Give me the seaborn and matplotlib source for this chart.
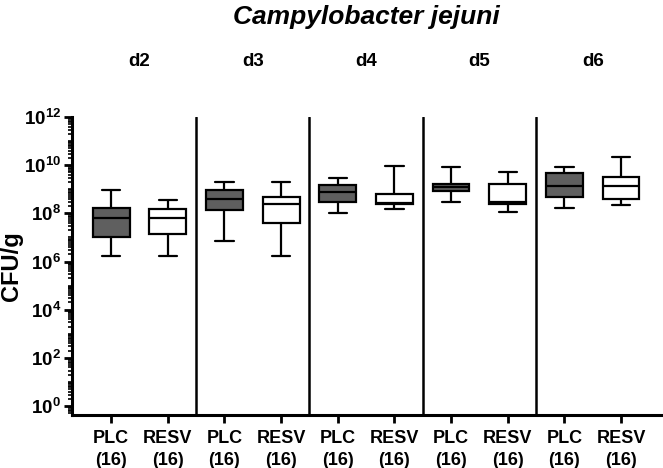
import numpy as np
import pandas as pd
import seaborn as sns
import matplotlib
matplotlib.use("Agg")
from matplotlib import pyplot as plt
from matplotlib.ticker import FixedLocator, LogLocator, FuncFormatter, NullFormatter

days = ["d2", "d3", "d4", "d5", "d6"]
groups = ["PLC", "RESV"]
n_per_box = [16, 16, 16, 16, 16, 16, 16, 16, 16, 16]

# five-number summaries, log10(CFU/g), order d2 PLC, d2 RESV, d3 PLC ...
whisker_low = [6.24, 6.21, 6.85, 6.24, 8.01, 8.20, 8.49, 8.05, 8.24, 8.36]
quart_1 = [7.01, 7.15, 8.15, 7.58, 8.47, 8.37, 8.94, 8.37, 8.67, 8.58]
median = [7.80, 7.80, 8.58, 8.37, 8.90, 8.44, 9.08, 8.48, 9.12, 9.13]
quart_3 = [8.22, 8.19, 8.98, 8.69, 9.17, 8.80, 9.23, 9.23, 9.67, 9.51]
whisker_high = [8.98, 8.54, 9.30, 9.31, 9.46, 9.96, 9.91, 9.71, 9.91, 10.35]

colors = {"PLC": "#5f5f5f", "RESV": "white"}

# long table: the five numbers per box, drawn with whiskers at min/max
slots = [f"{d} {g}" for d in days for g in groups]
rows = []
for i, slot in enumerate(slots):
    for stat in (whisker_low, quart_1, median, quart_3, whisker_high):
        rows.append({"slot": slot, "group": groups[i % 2], "cfu": 10 ** stat[i]})
df = pd.DataFrame(rows)

sns.set_style("ticks")
plt.rcParams["font.family"] = ["Liberation Sans", "DejaVu Sans"]
plt.rcParams["mathtext.fontset"] = "custom"
plt.rcParams["mathtext.rm"] = "Liberation Sans:bold"
plt.rcParams["mathtext.it"] = "Liberation Sans:bold"
plt.rcParams["mathtext.bf"] = "Liberation Sans:bold"
for key in ("text.color", "axes.labelcolor", "xtick.color", "ytick.color", "axes.edgecolor"):
    plt.rcParams[key] = "black"

fig = plt.figure(figsize=(6.63, 4.68), dpi=100)
ax = fig.add_axes([72 / 663, 1 - 415 / 468, 1 - 72 / 663, (415 - 117) / 468])

sns.boxplot(
    data=df, x="slot", y="cfu", hue="group", order=slots, hue_order=groups,
    palette=colors, dodge=False, whis=(0, 100), width=0.65, log_scale=True,
    linecolor="black", linewidth=1.6, saturation=1, legend=False, ax=ax,
)

# day separators
for b in np.arange(1.5, len(slots) - 1, 2):
    ax.axvline(b, color="black", lw=1.8, zorder=3)

ax.set_xlim(-0.69, 9.74)
ax.set_ylim(10 ** -0.37, 1e12)

ax.set_xticks(range(len(slots)))
ax.set_xticklabels([f"{groups[i % 2]}\n({n})" for i, n in enumerate(n_per_box)],
                   fontsize=13, fontweight="bold", linespacing=1.35)

ax.yaxis.set_major_locator(FixedLocator(10.0 ** np.arange(0, 13, 2)))
ax.yaxis.set_minor_locator(LogLocator(base=10, subs=np.arange(1, 10), numticks=60))
ax.yaxis.set_major_formatter(FuncFormatter(lambda v, p: r"$10^{%d}$" % round(np.log10(v))))
ax.yaxis.set_minor_formatter(NullFormatter())

ax.tick_params(axis="y", which="major", width=2, length=6, labelsize=13.5, pad=2)
ax.tick_params(axis="y", which="minor", width=1.2, length=3)
ax.tick_params(axis="x", which="major", width=2, length=6, pad=5)

sns.despine(ax=ax)
for s in ("left", "bottom"):
    ax.spines[s].set_linewidth(2.2)

ax.set_xlabel("")
ax.set_ylabel("CFU/g", fontsize=17, fontweight="bold")
ax.yaxis.set_label_coords(-0.083, 0.5)

for i, d in enumerate(days):
    ax.text(2 * i + 0.5, 1.185, d, transform=ax.get_xaxis_transform(),
            ha="center", va="center", fontsize=13.5, fontweight="bold")

fig.text(0.553, 1 - 17 / 468, "Campylobacter jejuni", ha="center", va="center",
         fontsize=19, fontweight="bold", style="italic")

fig.savefig("out.png", dpi=100)
